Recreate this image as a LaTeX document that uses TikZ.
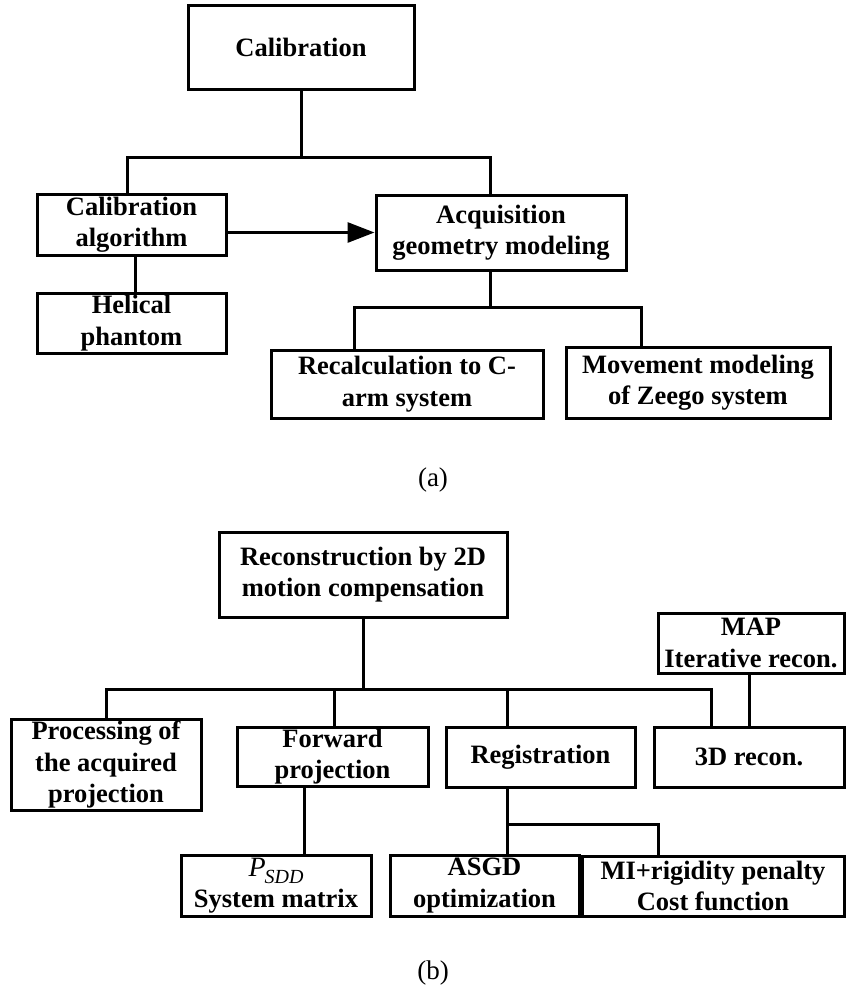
\documentclass[tikz,border=0pt]{standalone}
\usepackage{fontspec}
\setmainfont{Liberation Serif}
\usetikzlibrary{arrows.meta}
\begin{document}
\begin{tikzpicture}[x=1pt,y=-1pt,
  box/.style={draw, line width=3pt, inner sep=0pt, align=center,
    font=\fontsize{26.5}{31.5}\selectfont\bfseries},
  sz/.style 2 args={minimum width=#1pt, minimum height=#2pt},
  wire/.style={line width=3pt},
  caption/.style={font=\fontsize{27}{30}\selectfont}]
\useasboundingbox (0,0) rectangle (846,989);

% ---------- (a) calibration ----------
\node[box, sz={226}{84}] (cal)    at (301,47)    {Calibration};
\node[box, sz={189}{61}] (calalg) at (131.5,224.5) {Calibration\\algorithm};
\node[box, sz={250}{75}] (acq)    at (501,232.5) {Acquisition\\geometry modeling};
\node[box, sz={189}{60}] (hel)    at (131.5,323) {Helical\\phantom};
\node[box, sz={272}{68}] (recalc) at (407,384)   {Recalculation to C-\\arm system};
\node[box, sz={264}{71}] (move)   at (698,382.5) {Movement modeling\\of Zeego system};

\coordinate (bl) at (127,157);
\coordinate (br) at (490,157);
\draw[wire] (cal.south) -- (cal.south |- bl);
\draw[wire] (calalg.north -| bl) -- (bl) -- (br) -- (acq.north -| br);
\draw[wire, -{Triangle[length=27pt,width=20pt]}] (calalg.east |- acq.west) -- (acq.west);
\draw[wire] ([xshift=3.5pt]calalg.south) -- ([xshift=3.5pt]hel.north);

\coordinate (cl) at (354,307);
\coordinate (cr) at (641,307);
\draw[wire] ([xshift=-11pt]acq.south) -- ([xshift=-11pt]acq.south |- cl);
\draw[wire] (recalc.north -| cl) -- (cl) -- (cr) -- (move.north -| cr);

\node[caption] (capa) at (433,480) {(a)};

% ---------- (b) reconstruction ----------
\node[box, sz={288}{85}] (recon) at (363,574.5) {Reconstruction by 2D\\motion compensation};
\node[box, sz={186}{60}] (map)   at (751,643)   {MAP\\Iterative recon.};
\node[box, sz={190}{91}] (proc)  at (106,764.5) {Processing of\\the acquired\\projection};
\node[box, sz={191}{59}] (fwd)   at (332.5,756.5) {Forward\\projection};
\node[box, sz={189}{60}] (reg)   at (540.5,757) {Registration};
\node[box, sz={190}{60}] (thr)   at (749,757)   {3D recon.};
\node[box, sz={190}{61}] (psys)  at (276,885.5)
  {{\fontsize{28}{28}\selectfont\mdseries\itshape P\kern-1pt\raisebox{-7pt}{\fontsize{20}{20}\selectfont SDD}}\\System matrix};
\node[box, sz={189}{61}] (asgd)  at (484.5,885.5) {ASGD\\optimization};
\node[box, sz={262}{60}] (mi)    at (713,886)   {MI+rigidity penalty\\Cost function};

\coordinate (dl) at (106,689);
\coordinate (dr) at (711,689);
\coordinate (df) at (334,689);
\coordinate (dg) at (507,689);
\draw[wire] (recon.south) -- (recon.south |- dl);
\draw[wire] (proc.north -| dl) -- (dl) -- (dr) -- (thr.north -| dr);
\draw[wire] (df) -- (fwd.north -| df);
\draw[wire] (dg) -- (reg.north -| dg);
\draw[wire] ([xshift=-2pt]map.south) -- ([xshift=-2pt]map.south |- thr.north);

\coordinate (fp) at (304,820);
\draw[wire] (fwd.south -| fp) -- (psys.north -| fp);
\coordinate (ea) at (507,824);
\coordinate (eb) at (658,824);
\draw[wire] (reg.south -| ea) -- (asgd.north -| ea);
\draw[wire] (ea) -- (eb) -- (mi.north -| eb);

\node[caption] (capb) at (433,973) {(b)};
\end{tikzpicture}
\end{document}
